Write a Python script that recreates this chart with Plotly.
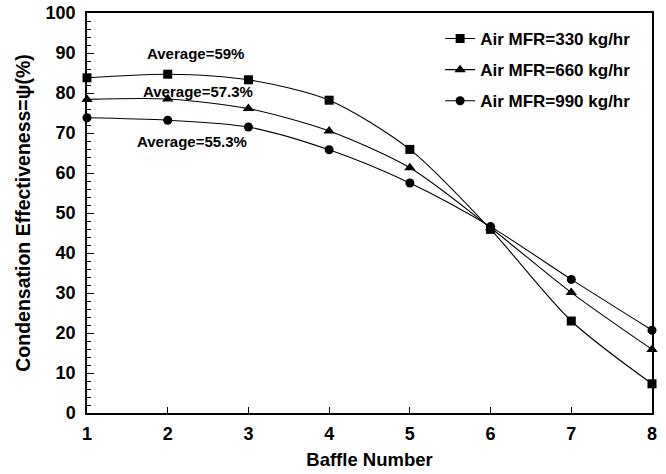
import plotly.graph_objects as go

baffle = [1, 2, 3, 4, 5, 6, 7, 8]
mfr_330 = [83.8, 84.7, 83.3, 78.2, 65.9, 45.9, 23.0, 7.3]
mfr_660 = [78.4, 78.5, 76.1, 70.5, 61.3, 46.3, 30.1, 15.9]
mfr_990 = [73.8, 73.2, 71.5, 65.8, 57.5, 46.6, 33.4, 20.7]
series_names = ["Air MFR=330 kg/hr", "Air MFR=660 kg/hr", "Air MFR=990 kg/hr"]
symbols = ["square", "triangle-up", "circle"]
avg_labels = ["Average=59%", "Average=57.3%", "Average=55.3%"]
avg_pos = [(2.35, 90.0), (2.37, 80.5), (2.30, 67.8)]

FONT = "Liberation Sans, Arial, Helvetica, sans-serif"

fig = go.Figure()
for i, (name, ys, sym) in enumerate(zip(series_names, [mfr_330, mfr_660, mfr_990], symbols)):
    fig.add_trace(go.Scatter(
        x=baffle, y=ys, name=name, mode="lines+markers",
        line=dict(color="black", width=1.1, shape="spline", smoothing=0.8),
        marker=dict(symbol=sym, size=9 if sym != "triangle-up" else 10, color="black"),
        legendgroup=f"g{i}", cliponaxis=False,
    ))

for txt, (ax, ay) in zip(avg_labels, avg_pos):
    fig.add_annotation(x=ax, y=ay, text=txt, showarrow=False,
                       font=dict(family=FONT, size=15, color="black", weight="bold"))

fig.update_layout(
    width=666, height=474,
    margin=dict(l=87, r=14, t=13, b=61, autoexpand=False),
    paper_bgcolor="white", plot_bgcolor="white",
    font=dict(family=FONT, color="black"),
    showlegend=True,
    legend=dict(x=0.625, y=0.98, xanchor="left", yanchor="top",
                bgcolor="rgba(0,0,0,0)", borderwidth=0,
                font=dict(family=FONT, size=17, color="black", weight="bold"),
                tracegroupgap=6, traceorder="grouped"),
    xaxis=dict(range=[1, 8], tickmode="linear", tick0=1, dtick=1,
               ticks="inside", ticklen=6, tickcolor="black", automargin=False,
               showline=True, linecolor="black", linewidth=1.5, mirror=True,
               showgrid=False, zeroline=False, ticklabelstandoff=4,
               tickfont=dict(family=FONT, size=18, color="black", weight="bold"),
               title=dict(text="Baffle Number", standoff=10,
                          font=dict(family=FONT, size=18.5, color="black", weight="bold"))),
    yaxis=dict(range=[0, 100], tickmode="linear", tick0=0, dtick=10,
               ticks="inside", ticklen=7, tickcolor="black", automargin=False,
               minor=dict(ticks="inside", ticklen=4, dtick=2, tickcolor="black"),
               showline=True, linecolor="black", linewidth=1.5, mirror=True,
               showgrid=False, zeroline=False, ticklabelstandoff=6,
               tickfont=dict(family=FONT, size=18, color="black", weight="bold"),
               title=dict(text="Condensation Effectiveness=\u03c8(%)", standoff=10,
                          font=dict(family=FONT, size=19.5, color="black", weight="bold"))),
)

fig.write_html("out.html")
